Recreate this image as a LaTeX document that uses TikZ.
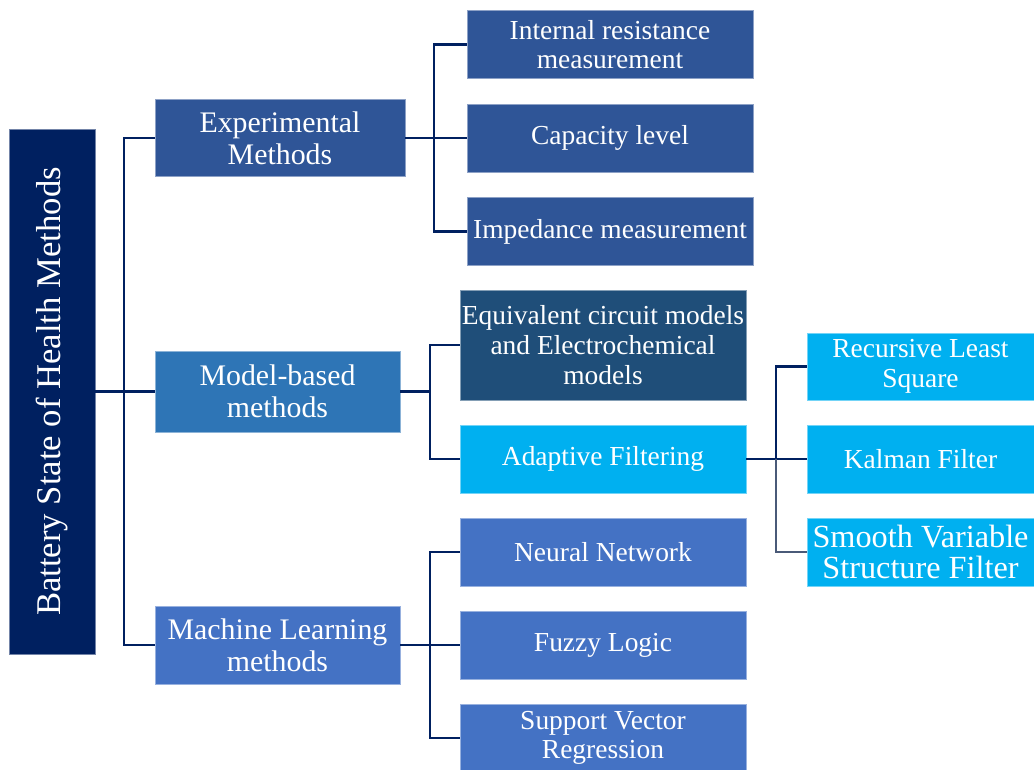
\documentclass[tikz,border=0pt]{standalone}
\usepackage{fontspec}
\setmainfont{Liberation Serif}
\definecolor{navy}{HTML}{002060}
\definecolor{expblue}{HTML}{2F5597}
\definecolor{modblue}{HTML}{2E75B6}
\definecolor{eqblue}{HTML}{1F4E79}
\definecolor{cyanbox}{HTML}{00B0F0}
\definecolor{mlblue}{HTML}{4472C4}
\definecolor{slate}{HTML}{4A5A78}
\tikzset{
  catbox/.style={rectangle, fill=#1, draw=#1!55!white, line width=0.5pt,
    text=white, align=center, inner sep=0pt},
  lvone/.style={catbox=#1, minimum width=245\px, minimum height=78\px,
    font=\fontsize{22.4pt}{24pt}\selectfont},
  lvtwo/.style={catbox=#1, minimum width=286\px, minimum height=68\px,
    font=\fontsize{20.6pt}{22.2pt}\selectfont},
  lvthree/.style={catbox=#1, minimum width=227\px, minimum height=68\px,
    font=\fontsize{20.6pt}{22.2pt}\selectfont},
  link/.style={draw=navy, line width=2.2pt},
}
\newlength{\px}
\setlength{\px}{0.75pt}
\begin{document}
\begin{tikzpicture}[x=0.75pt, y=-0.75pt]
\useasboundingbox (0,0) rectangle (1034,769);

% root
\node[catbox=navy, minimum width=86\px, minimum height=525\px] (root) at (52,391.5) {};
\node[rotate=90, text=white, font=\fontsize{26pt}{28pt}\selectfont] (roottxt) at (root.center) {Battery State of Health Methods};

% first level
\node[lvone=expblue, minimum width=250\px, minimum height=77\px] (exp) at (280,138) {Experimental\\Methods};
\node[lvone=modblue, minimum height=81\px] (model) at (277.5,391.5) {Model-based\\methods};
\node[lvone=mlblue] (ml) at (277.5,645) {Machine Learning\\methods};

% experimental methods
\node[lvtwo=expblue] (ir) at (610,44.5) {Internal resistance\\measurement};
\node[lvtwo=expblue] (cap) at (610,138) {Capacity level};
\node[lvtwo=expblue] (imp) at (610,231.5) {Impedance measurement};

% model-based methods
\node[lvtwo=eqblue, minimum height=110\px] (eq) at (603,345) {Equivalent circuit models\\and Electrochemical\\models};
\node[lvtwo=cyanbox] (af) at (603,459) {Adaptive Filtering};

% machine learning methods
\node[lvtwo=mlblue] (nn) at (603,552) {Neural Network};
\node[lvtwo=mlblue] (fz) at (603,645) {Fuzzy Logic};
\node[lvtwo=mlblue] (svr) at (603,738) {Support Vector\\Regression};

% adaptive filters
\node[lvthree=cyanbox, minimum height=67\px] (rls) at (920.5,366.5) {Recursive Least\\Square};
\node[lvthree=cyanbox] (kf) at (920.5,459) {Kalman Filter};
\node[lvthree=cyanbox, font=\fontsize{24.2pt}{23.5pt}\selectfont] (svsf) at (920.5,552) {Smooth Variable\\Structure Filter};

% connectors
\coordinate (j1) at (124,391.5);
\coordinate (j2) at (434,138);
\coordinate (j3) at (430,391.5);
\coordinate (j4) at (430,645);
\coordinate (j5) at (776,459);

\draw[link] (root.east) -- (model.west);
\draw[link] (exp.west) -| (j1) |- (ml.west);

\draw[link] (exp.east) -- (cap.west);
\draw[link] (ir.west) -| (j2) |- (imp.west);

\draw[link] (model.east) -- (j3);
\draw[link] (eq.west) -| (j3) |- (af.west);

\draw[link] (ml.east) -- (fz.west);
\draw[link] (nn.west) -| (j4) |- (svr.west);

\draw[link] (af.east) -- (kf.west);
\draw[link] (rls.west) -| (j5);
\draw[link, draw=slate] (j5) |- (svsf.west);
\end{tikzpicture}
\end{document}
